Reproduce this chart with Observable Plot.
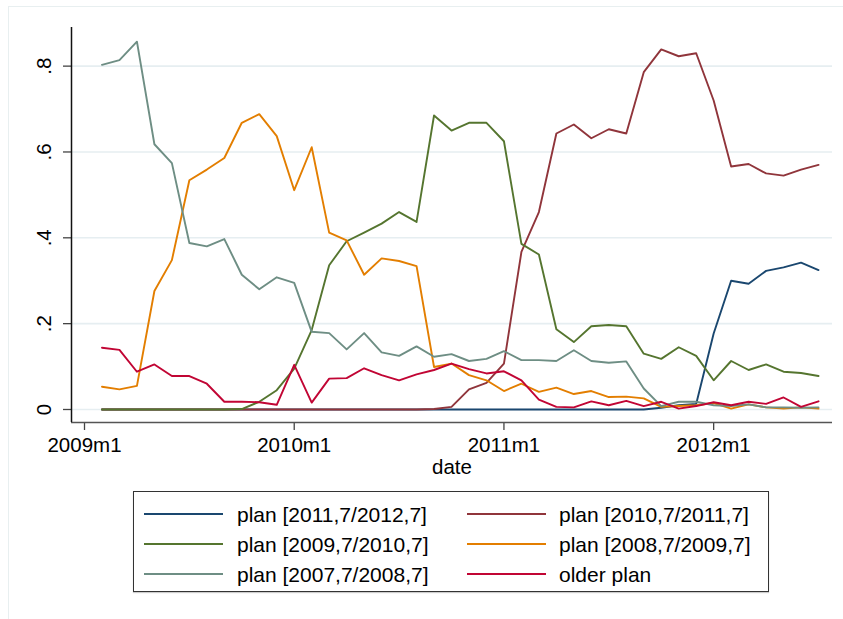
<!DOCTYPE html>
<html><head><meta charset="utf-8">
<script src="https://cdn.jsdelivr.net/npm/d3@7"></script>
<script src="https://cdn.jsdelivr.net/npm/@observablehq/plot@0.6"></script>
<style>
body{margin:0;background:#fff;font-family:"Liberation Sans",Arial,Helvetica,sans-serif;}
#wrap{position:relative;width:843px;height:619px;overflow:hidden;background:#fff;}
#outer{position:absolute;left:8px;top:6px;width:900px;height:700px;border:1.5px solid #e8eff0;box-sizing:border-box;}
#chart{position:absolute;left:0;top:0;}
#legend{position:absolute;left:133px;top:491px;width:636px;height:101px;border:1.3px solid #333;background:#fff;box-sizing:border-box;box-shadow:0 1px 1px #ccc;}
.item{position:absolute;font-size:21px;line-height:1;white-space:nowrap;color:#000;transform:translateY(-50%);}
.sw{position:absolute;height:2px;}
</style>
</head><body>
<div id="wrap"><div id="outer"></div><div id="chart"></div><div id="legend"></div></div>
<script>
const months = ["2009m2","2009m3","2009m4","2009m5","2009m6","2009m7","2009m8","2009m9","2009m10","2009m11","2009m12",
"2010m1","2010m2","2010m3","2010m4","2010m5","2010m6","2010m7","2010m8","2010m9","2010m10","2010m11","2010m12",
"2011m1","2011m2","2011m3","2011m4","2011m5","2011m6","2011m7","2011m8","2011m9","2011m10","2011m11","2011m12",
"2012m1","2012m2","2012m3","2012m4","2012m5","2012m6","2012m7"];

const plan2011 = [0,0,0,0,0,0,0,0,0,0,0,0,0,0,0,0,0,0,0,0,0,0,0,0,0,0,0,0,0,0,0,0,0.004,0.010,0.013,0.177,0.300,0.293,0.323,0.331,0.342,0.325];
const plan2010 = [0,0,0,0,0,0,0,0,0,0,0,0,0,0,0,0,0,0,0,0.001,0.006,0.047,0.062,0.107,0.367,0.460,0.643,0.664,0.632,0.653,0.643,0.786,0.839,0.823,0.830,0.720,0.566,0.572,0.550,0.545,0.559,0.570];
const plan2009 = [0,0,0,0,0,0,0,0,0.001,0.018,0.045,0.095,0.185,0.336,0.392,0.412,0.433,0.460,0.437,0.685,0.650,0.668,0.668,0.625,0.386,0.361,0.187,0.157,0.194,0.197,0.194,0.130,0.118,0.145,0.125,0.068,0.113,0.092,0.105,0.088,0.085,0.078];
const plan2008 = [0.053,0.047,0.055,0.276,0.348,0.534,0.559,0.586,0.668,0.688,0.637,0.511,0.611,0.412,0.394,0.314,0.352,0.346,0.334,0.099,0.107,0.080,0.068,0.043,0.060,0.041,0.051,0.036,0.043,0.029,0.030,0.026,0.006,0.008,0.010,0.015,0.002,0.012,0.005,0.002,0.005,0.002];
const plan2007 = [0.803,0.814,0.857,0.618,0.574,0.388,0.380,0.397,0.314,0.280,0.308,0.295,0.181,0.178,0.140,0.178,0.133,0.125,0.147,0.123,0.129,0.113,0.118,0.136,0.115,0.115,0.113,0.138,0.113,0.109,0.112,0.049,0.008,0.018,0.018,0.010,0.008,0.012,0.005,0.005,0.004,0.005];
const olderPlan = [0.144,0.139,0.088,0.105,0.078,0.078,0.060,0.018,0.018,0.017,0.011,0.104,0.016,0.072,0.073,0.096,0.080,0.068,0.082,0.092,0.107,0.094,0.084,0.089,0.068,0.023,0.006,0.005,0.019,0.010,0.020,0.008,0.018,0.002,0.008,0.017,0.010,0.018,0.013,0.028,0.006,0.019];

const seriesNames = ["plan [2011,7/2012,7]","plan [2010,7/2011,7]","plan [2009,7/2010,7]","plan [2008,7/2009,7]","plan [2007,7/2008,7]","older plan"];
const seriesValues = [plan2011, plan2010, plan2009, plan2008, plan2007, olderPlan];
const seriesColors = ["#1a476f","#90353b","#55752f","#e37e00","#6e8e84","#c10534"];

const xTickLabels = ["2009m1","2010m1","2011m1","2012m1"];
const yTicks = [0, 0.2, 0.4, 0.6, 0.8];

const toIdx = s => { const [y, m] = s.split("m").map(Number); return (y - 2009) * 12 + (m - 1); };
const monthIdx = months.map(toIdx);
const xTicks = xTickLabels.map(toIdx);
const xDomain = [-0.744, 42.8];
const yDomain = [-0.0303, 0.890];
const yFmt = d => d === 0 ? "0" : d.toFixed(1).replace(/^0/, "");

const lineMarks = seriesValues.map((vals, k) =>
  Plot.line(vals.map((v, i) => ({t: monthIdx[i], v})), {x: "t", y: "v", stroke: seriesColors[k], strokeWidth: 1.9})
);

const chart = Plot.plot({
  width: 843, height: 480,
  marginLeft: 71, marginRight: 11, marginTop: 27, marginBottom: 58,
  style: {fontFamily: "Liberation Sans, Arial, Helvetica, sans-serif", fontSize: "20.5px", background: "transparent", color: "#000"},
  x: {domain: xDomain},
  y: {domain: yDomain},
  marks: [
    Plot.gridY(yTicks, {stroke: "#e6eef1", strokeOpacity: 1, strokeWidth: 1.6}),
    Plot.axisX(xTicks, {tickSize: 8, tickPadding: 7, tickFormat: d => xTickLabels[xTicks.indexOf(d)], stroke: "#444", strokeWidth: 1.3, label: null, fontSize: 20.5, fill: "#000"}),
    Plot.axisY(yTicks, {tickSize: 8, tickFormat: () => "", label: null, stroke: "#444", strokeWidth: 1.3}),
    Plot.text(yTicks, {y: d => d, frameAnchor: "left", dx: -27, rotate: -90, text: yFmt, textAnchor: "middle", lineAnchor: "middle", fontSize: 20.5, fill: "#000"}),
    Plot.text(["date"], {frameAnchor: "bottom", dy: 45, text: d => d, lineAnchor: "middle", fontSize: 20.5, fill: "#000"}),
    Plot.ruleY([yDomain[0]], {stroke: "#555", strokeWidth: 1.5}),
    Plot.ruleX([xDomain[0]], {stroke: "#111", strokeWidth: 1.5}),
    ...lineMarks
  ]
});
document.getElementById("chart").appendChild(chart);

const legend = document.getElementById("legend");
const rowY = [22, 52, 82];
const swX = [10, 333], txX = [103, 425];
seriesNames.forEach((name, i) => {
  const col = i % 2, row = Math.floor(i / 2);
  const sw = document.createElement("div");
  sw.className = "sw";
  sw.style.left = swX[col] + "px";
  sw.style.top = (rowY[row] - 1) + "px";
  sw.style.width = "79px";
  sw.style.background = seriesColors[i];
  legend.appendChild(sw);
  const t = document.createElement("div");
  t.className = "item";
  t.style.left = txX[col] + "px";
  t.style.top = rowY[row] + "px";
  t.textContent = name;
  legend.appendChild(t);
});
</script>
</body></html>
